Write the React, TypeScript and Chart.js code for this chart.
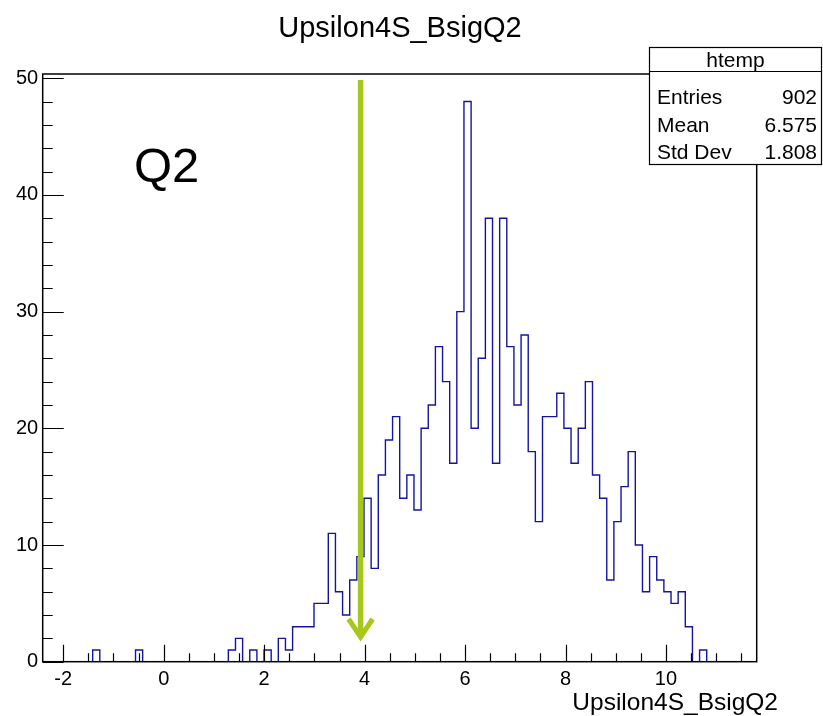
import { useEffect, useRef } from "react";
import { Chart, registerables } from "chart.js";

Chart.register(...registerables);

// ---- data ----
const TITLE = "Upsilon4S_BsigQ2";
const X_TITLE = "Upsilon4S_BsigQ2";
const HIST_NAME = "htemp";
const X_MIN = -2.409;
const X_MAX = 11.806;
const N_BINS = 100;
const COUNTS = [
  0, 0, 0, 0, 0, 0, 0, 1, 0, 0,
  0, 0, 0, 1, 0, 0, 0, 0, 0, 0,
  0, 0, 0, 0, 0, 0, 1, 2, 0, 1,
  0, 1, 0, 2, 1, 3, 3, 3, 5, 5,
  11, 6, 4, 7, 9, 14, 8, 16, 19, 21,
  14, 16, 13, 20, 22, 27, 24, 17, 30, 48,
  20, 26, 38, 17, 38, 27, 22, 28, 18, 12,
  21, 21, 23, 20, 17, 20, 24, 16, 14, 7,
  12, 15, 18, 10, 6, 9, 7, 6, 5, 6,
  3, 0, 1, 0, 0, 0, 0, 0, 0, 0,
];
const X_TICKS = [-2, 0, 2, 4, 6, 8, 10];
const Y_TICKS = [0, 10, 20, 30, 40, 50];
const Y_MAX = 50.36;
const STATS_LABELS = ["Entries", "Mean", "Std Dev"];
const STATS_VALUES = ["902", "6.575", "1.808"];
const ANNOTATION = "Q2";
const CUT_X = 3.92;
const ARROW_TOP = 49.85;
const ARROW_TIP = 1.86;

const FONT = "'Liberation Sans', Arial, Helvetica, sans-serif";

export default function App() {
  const ref = useRef<HTMLCanvasElement>(null);

  useEffect(() => {
    if (!ref.current) return;
    const binW = (X_MAX - X_MIN) / N_BINS;
    const pts = COUNTS.map((c, i) => ({ x: X_MIN + i * binW, y: c }));
    pts.push({ x: X_MAX, y: COUNTS[N_BINS - 1] });

    const decor = {
      id: "rootDecor",
      afterDatasetsDraw(chart: any) {
        const { ctx, chartArea: a } = chart;
        const xs = chart.scales.x;
        const ys = chart.scales.y;
        ctx.save();
        // frame
        ctx.strokeStyle = "#000";
        ctx.lineWidth = 1.5;
        ctx.strokeRect(a.left, a.top, a.right - a.left, a.bottom - a.top);
        // ticks (inside)
        ctx.lineWidth = 1.2;
        ctx.beginPath();
        for (let k = -6; k <= 24; k++) {
          const v = k * 0.5;
          if (v < X_MIN || v > X_MAX) continue;
          const px = Math.round(xs.getPixelForValue(v)) + 0.5;
          const len = k % 4 === 0 ? 17 : 8.5;
          ctx.moveTo(px, a.bottom);
          ctx.lineTo(px, a.bottom - len);
        }
        for (let k = 0; k <= 25; k++) {
          const v = k * 2;
          if (v > Y_MAX) continue;
          const py = Math.round(ys.getPixelForValue(v)) + 0.5;
          const len = k % 5 === 0 ? 21 : 10;
          ctx.moveTo(a.left, py);
          ctx.lineTo(a.left + len, py);
        }
        ctx.stroke();

        // arrow
        const ax = xs.getPixelForValue(CUT_X);
        const aTop = ys.getPixelForValue(ARROW_TOP);
        const aTip = ys.getPixelForValue(ARROW_TIP);
        ctx.strokeStyle = "#a6c81c";
        ctx.lineWidth = 5.5;
        ctx.lineCap = "butt";
        ctx.beginPath();
        ctx.moveTo(ax, aTop);
        ctx.lineTo(ax, aTip - 3);
        ctx.stroke();
        ctx.lineWidth = 5;
        ctx.lineJoin = "miter";
        ctx.beginPath();
        ctx.moveTo(ax - 12, aTip - 21);
        ctx.lineTo(ax, aTip - 3);
        ctx.lineTo(ax + 12, aTip - 21);
        ctx.stroke();

        // title
        ctx.fillStyle = "#000";
        ctx.textAlign = "center";
        ctx.textBaseline = "alphabetic";
        ctx.font = `29px ${FONT}`;
        ctx.fillText(TITLE, 400, 37);

        // x-axis title
        ctx.textAlign = "right";
        ctx.font = `24.5px ${FONT}`;
        ctx.fillText(X_TITLE, 778, 710);

        // annotation
        ctx.textAlign = "left";
        ctx.font = `49px ${FONT}`;
        ctx.fillText(ANNOTATION, 134, 182);

        // stats box
        const bx = 649, by = 47, bw = 173, bh = 117;
        ctx.fillStyle = "#fff";
        ctx.fillRect(bx, by, bw, bh);
        ctx.strokeStyle = "#000";
        ctx.lineWidth = 1.2;
        ctx.strokeRect(bx + 0.5, by + 0.5, bw - 1, bh);
        ctx.beginPath();
        ctx.moveTo(bx, 71.5);
        ctx.lineTo(bx + bw, 71.5);
        ctx.stroke();
        ctx.fillStyle = "#000";
        ctx.font = `21px ${FONT}`;
        ctx.textAlign = "center";
        ctx.fillText(HIST_NAME, bx + bw / 2, 67);
        STATS_LABELS.forEach((lab, i) => {
          const yb = 104 + i * 27.5;
          ctx.textAlign = "left";
          ctx.fillText(lab, 657, yb);
          ctx.textAlign = "right";
          ctx.fillText(STATS_VALUES[i], 817, yb);
        });
        ctx.restore();
      },
    };

    const chart = new Chart(ref.current, {
      type: "line",
      data: {
        datasets: [
          {
            data: pts,
            stepped: "before",
            borderColor: "#1414a0",
            borderWidth: 1.4,
            pointRadius: 0,
            fill: false,
          } as any,
        ],
      },
      options: {
        animation: false,
        responsive: false,
        devicePixelRatio: 1,
        layout: { padding: { top: 74, right: 66.3, left: 0, bottom: 0 } },
        plugins: {
          legend: { display: false },
          tooltip: { enabled: false },
          title: { display: false },
        },
        scales: {
          x: {
            type: "linear",
            min: X_MIN,
            max: X_MAX,
            grid: { display: false, drawTicks: false },
            border: { display: false },
            afterBuildTicks: (s: any) => {
              s.ticks = X_TICKS.map((v) => ({ value: v }));
            },
            afterFit: (s: any) => {
              s.height = 54.3;
            },
            ticks: {
              color: "#000",
              font: { family: FONT, size: 20 },
              padding: 6,
              maxRotation: 0,
              autoSkip: false,
            },
          },
          y: {
            type: "linear",
            min: 0,
            max: Y_MAX,
            grid: { display: false, drawTicks: false },
            border: { display: false },
            afterBuildTicks: (s: any) => {
              s.ticks = Y_TICKS.map((v) => ({ value: v }));
            },
            afterFit: (s: any) => {
              s.width = 42.7;
            },
            ticks: {
              color: "#000",
              font: { family: FONT, size: 20 },
              padding: 4.5,
              autoSkip: false,
            },
          },
        },
      } as any,
      plugins: [decor],
    });
    return () => chart.destroy();
  }, []);

  return (
    <div style={{ position: "absolute", left: 0, top: 0, width: 823, height: 716, background: "#fff" }}>
      <canvas ref={ref} width={823} height={716} style={{ display: "block" }} />
    </div>
  );
}
